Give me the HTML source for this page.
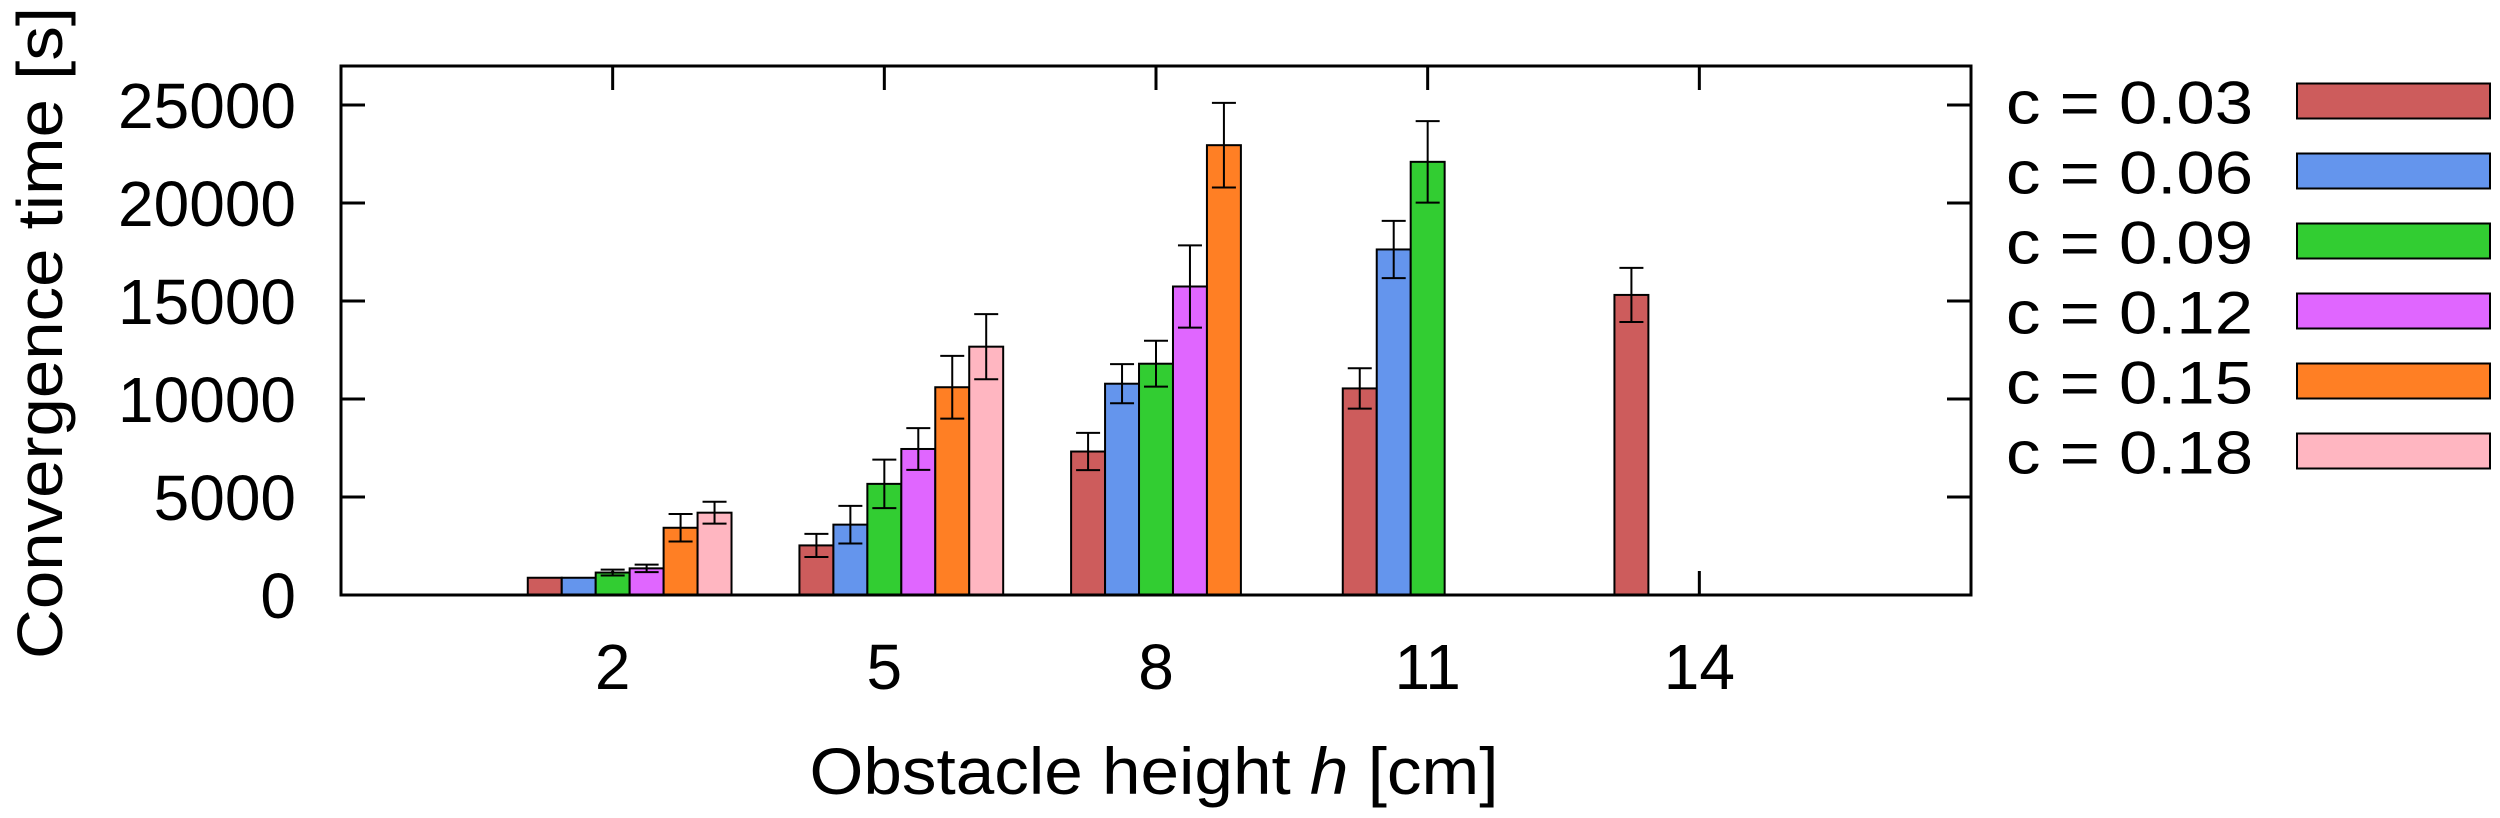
<!DOCTYPE html>
<html><head><meta charset="utf-8"><style>
html,body{margin:0;padding:0;background:#fff;}
svg{display:block;font-family:"Liberation Sans",Arial,sans-serif;}
</style></head><body>
<svg id="chart" width="2500" height="818" viewBox="0 0 2500 818" xmlns="http://www.w3.org/2000/svg">
<g id="grid-layer"></g>
<g id="bars-layer"></g>
<g id="axes-layer"></g>
<g id="legend-layer"></g>
<text transform="translate(62,333) rotate(-90)" text-anchor="middle" font-size="64" textLength="652" lengthAdjust="spacingAndGlyphs">Convergence time [s]</text>
<text x="1154" y="794" text-anchor="middle" font-size="66" textLength="689" lengthAdjust="spacingAndGlyphs">Obstacle height <tspan font-style="italic">h</tspan> [cm]</text>
</svg>
<script>
const categories = [2, 5, 8, 11, 14];
const seriesNames = ["c = 0.03","c = 0.06","c = 0.09","c = 0.12","c = 0.15","c = 0.18"];
const seriesColors = ["#cd5c5c","#6495ed","#32cd32","#e066ff","#ff7f24","#ffb6c1"];
const s003 = [880, 2530, 7320, 10540, 15310];
const s006 = [880, 3590, 10780, 17630, null];
const s009 = [1145, 5670, 11800, 22100, null];
const s012 = [1360, 7450, 15740, null, null];
const s015 = [3430, 10600, 22950, null, null];
const s018 = [4200, 12670, null, null, null];
const e003 = [0, 590, 950, 1030, 1380];
const e006 = [0, 960, 1000, 1460, null];
const e009 = [150, 1240, 1170, 2080, null];
const e012 = [190, 1065, 2100, null, null];
const e015 = [700, 1600, 2160, null, null];
const e018 = [560, 1660, null, null, null];
const yTicks = [0, 5000, 10000, 15000, 20000, 25000];
const series = [s003,s006,s009,s012,s015,s018];
const errs = [e003,e006,e009,e012,e015,e018];

const L=341,R=1971,T=66,B=595;
const xMin=-1,xMax=17,yMax=25000*(B-T)/(595-105);
const xs=v=>L+(v-xMin)/(xMax-xMin)*(R-L);
const ys=v=>B-v/yMax*(B-T);
const barW=0.375;
const NS="http://www.w3.org/2000/svg";
function mk(tag,attrs,parent){const e=document.createElementNS(NS,tag);for(const k in attrs)e.setAttribute(k,attrs[k]);parent.appendChild(e);return e;}
const grid=document.getElementById('grid-layer');
const barsL=document.getElementById('bars-layer');
const axes=document.getElementById('axes-layer');
const leg=document.getElementById('legend-layer');

categories.forEach(c=>{
  const x=xs(c);
  const t1=mk('line',{x1:x,x2:x,y1:T,y2:T+24,stroke:'#000','stroke-width':3},grid);
  
  
  const t2=mk('line',{x1:x,x2:x,y1:B,y2:B-24,stroke:'#000','stroke-width':3},grid);
  
  
  const lb=mk('text',{x:x,y:689,'text-anchor':'middle','font-size':64},axes);
  lb.textContent=c;
  
  
});
yTicks.forEach(v=>{
  const y=ys(v);
  const a=mk('line',{x1:L,x2:L+24,y1:y,y2:y,stroke:'#000','stroke-width':3},grid);
  
  
  const b=mk('line',{x1:R,x2:R-24,y1:y,y2:y,stroke:'#000','stroke-width':3},grid);
  
  
  const lb=mk('text',{x:296,y:y+23,'text-anchor':'end','font-size':64},axes);
  lb.textContent=v;
  
  
});

series.forEach((s,i)=>{
  s.forEach((v,j)=>{
    if(v==null)return;
    const xc=categories[j]+(i-2)*barW;
    const x0=xs(xc-barW/2), x1=xs(xc+barW/2);
    const r=mk('rect',{x:x0,y:ys(v),width:x1-x0,height:ys(0)-ys(v),fill:seriesColors[i],stroke:'#000','stroke-width':2},barsL);
    
    
    const e=errs[i][j];
    if(e){
      const cx=xs(xc), yt=ys(v+e), yb=ys(v-e);
      const g=mk('path',{d:`M${cx},${yt}V${yb}M${cx-12},${yt}H${cx+12}M${cx-12},${yb}H${cx+12}`,stroke:'#000','stroke-width':2,fill:'none'},barsL);
      
      
    }
  });
});

const frame=mk('rect',{x:L,y:T,width:R-L,height:B-T,fill:'none',stroke:'#000','stroke-width':3},axes);



seriesNames.forEach((n,i)=>{
  const y=83.5+i*70;
  const t=mk('text',{x:2006,y:y+40,'font-size':60,textLength:247,lengthAdjust:'spacingAndGlyphs'},leg);
  t.textContent=n;
  
  
  const r=mk('rect',{x:2297,y:y,width:193,height:35,fill:seriesColors[i],stroke:'#000','stroke-width':2},leg);
  
  
});
</script>
</body></html>
